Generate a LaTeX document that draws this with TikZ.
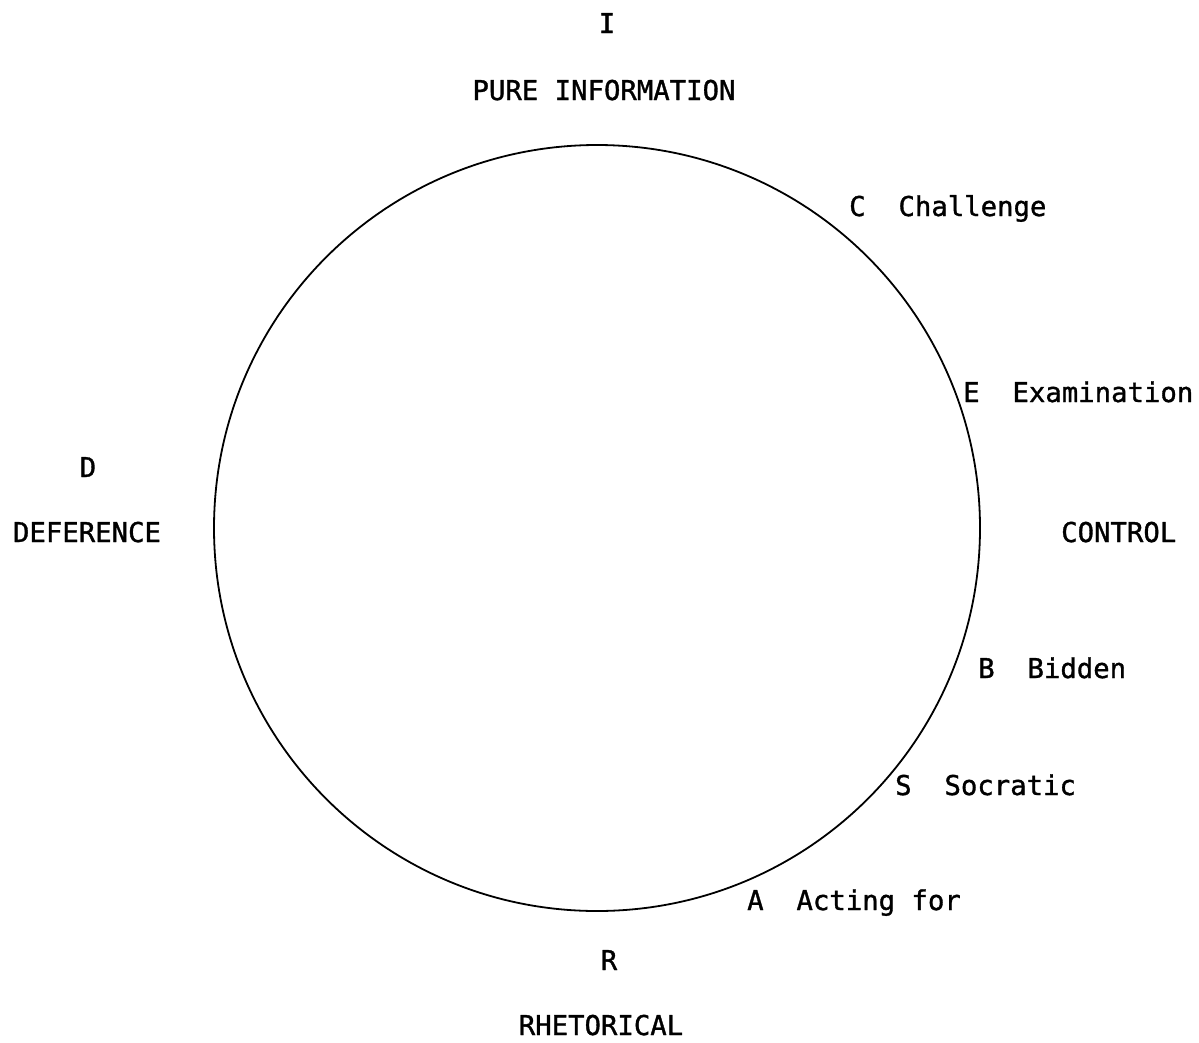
\documentclass[tikz,border=0pt]{standalone}
\usepackage{fontspec}
\setmainfont[FakeBold=1.2,AutoFakeBold=1.2]{DejaVu Sans Mono}
\begin{document}
\begin{tikzpicture}[x=1pt,y=-1pt,
  lbl/.style={inner sep=0pt,font=\fontsize{27.3}{30}\selectfont\bfseries,anchor=base west},
  lblc/.style={inner sep=0pt,font=\fontsize{27.3}{30}\selectfont\bfseries,anchor=base},
  ring/.style={draw=black,line width=1.8pt}]
\useasboundingbox (0,0) rectangle (1199,1042);
\node[ring,circle,minimum size=766pt,inner sep=0pt] (circ) at (597,528) {};
\node[lblc] (I) at (607,33) {I};
\node[lblc] (pure) at (604,100) {PURE INFORMATION};
\node[lbl] (C) at (849,216) {C\ \ Challenge};
\node[lbl] (E) at (963,402) {E\ \ Examination};
\node[lblc] (D) at (88,477) {D};
\node[lblc] (def) at (87,542) {DEFERENCE};
\node[lbl] (ctrl) at (1061,542) {CONTROL};
\node[lbl] (B) at (978,678) {B\ \ Bidden};
\node[lbl] (S) at (895,795) {S\ \ Socratic};
\node[lbl] (A) at (747,910) {A\ \ Acting for};
\node[lblc] (R) at (609,970) {R};
\node[lblc] (rhet) at (601,1035) {RHETORICAL};
\end{tikzpicture}
\end{document}
